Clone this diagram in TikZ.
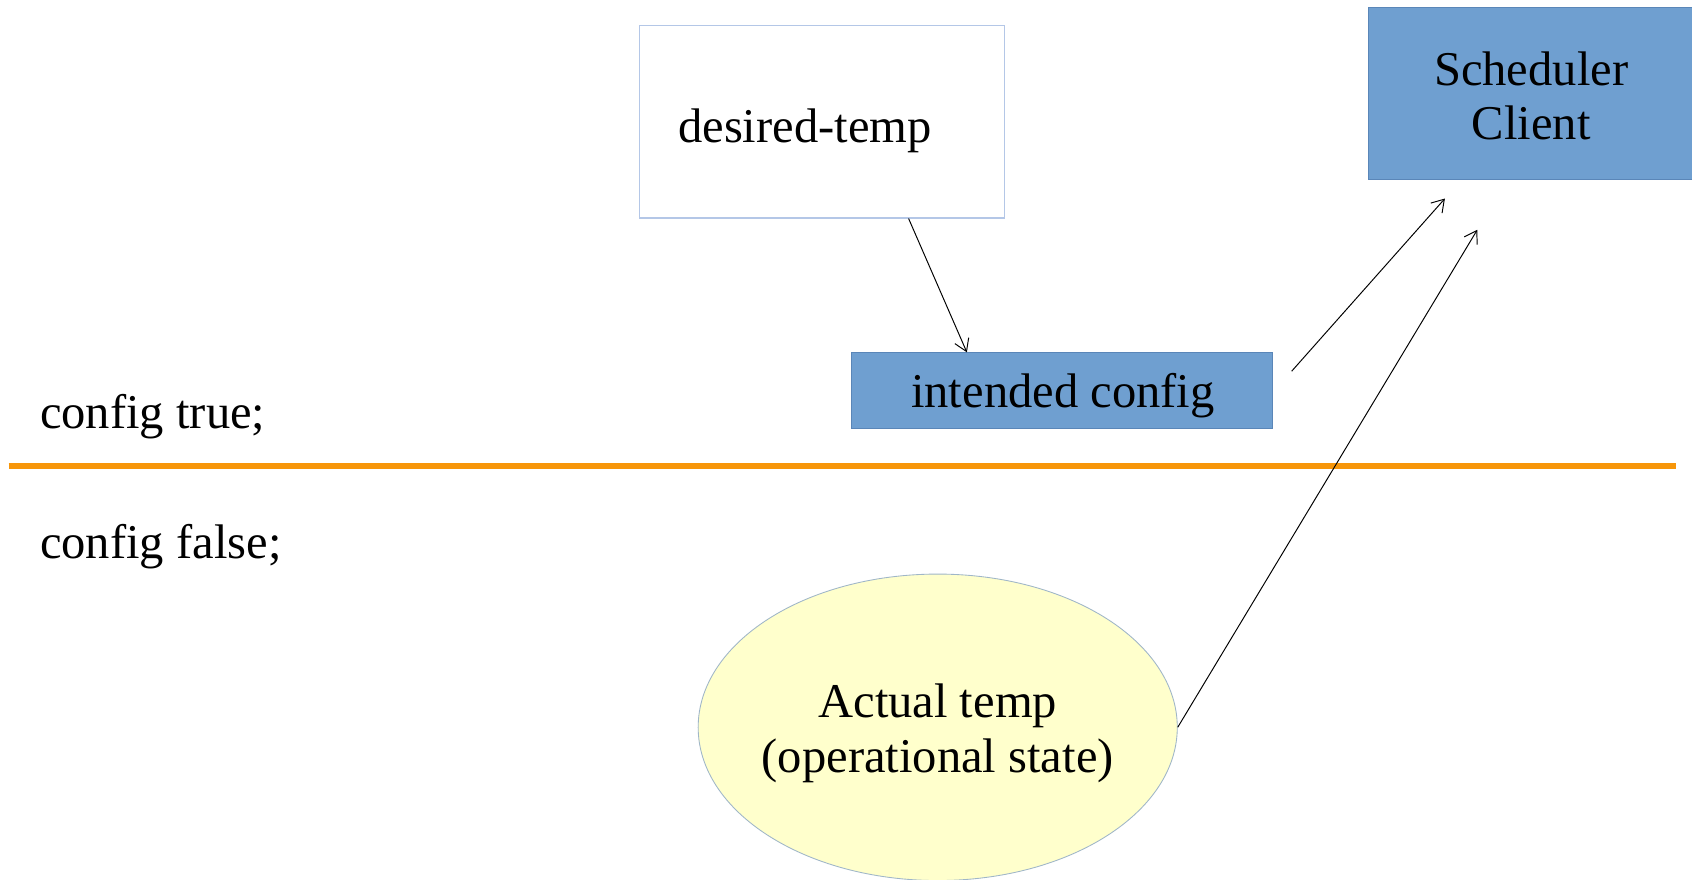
\documentclass[tikz,border=0pt]{standalone}
\usepackage{fontspec}
\setmainfont{Liberation Serif}
\usetikzlibrary{shapes.geometric,arrows.meta}
\definecolor{boxblue}{HTML}{6F9FD0}
\definecolor{boxedge}{HTML}{5A86B8}
\definecolor{paleedge}{HTML}{B4C7E7}
\definecolor{ellfill}{HTML}{FFFFCC}
\definecolor{elledge}{HTML}{9FB6C8}
\definecolor{sep}{HTML}{F7960A}
\tikzset{
  bigtext/.style={font=\fontsize{45}{50}\selectfont, text=black, inner sep=0pt, align=center},
  bluebox/.style={rectangle, fill=boxblue, draw=boxedge, line width=1pt, inner sep=0pt},
  conn/.style={draw=black, line width=0.9pt, -{Straight Barb[length=11pt,width=14pt,line width=0.9pt]}},
}
\begin{document}
\begin{tikzpicture}[x=1pt,y=-1pt]
\useasboundingbox[fill=white] (0,0) rectangle (1568,815.5);
% desired-temp box
\node[draw=paleedge, line width=1pt, minimum width=338pt, minimum height=178pt, inner sep=0pt] (d) at (762,113) {};
\node[bigtext] (dt) at (746,121) {desired-temp};
% scheduler client
\node[bluebox, minimum width=424pt, minimum height=159pt] (sc) at (1480,86.5) {};
\node[bigtext] (sct) at (1419,89) {Scheduler\\Client};
% intended config
\node[bluebox, minimum width=390pt, minimum height=70pt] (ic) at (984,362) {};
\node[bigtext] (ict) at (985,367) {intended config};
% separator
\draw[sep, line width=6pt] (8,432) coordinate (l1) -- (1553,432) coordinate (l2);
% labels
\node[bigtext, anchor=west] (ct) at (37,386) {config true;};
\node[bigtext, anchor=west] (cf) at (37,507) {config false;};
% ellipse
\node[ellipse, fill=ellfill, draw=elledge, line width=0.8pt, minimum width=444pt, minimum height=284pt, inner sep=0pt] (at) at (869,674) {};
\node[bigtext, font=\fontsize{45}{51}\selectfont] (att) at (869,680) {Actual temp\\(operational state)};
% connectors
\coordinate (icout) at (1197,344);
\coordinate (scin1) at (1339,184);
\coordinate (scin2) at (1369,213);
\draw[conn] ([xshift=80pt]d.south) -- ([xshift=-88pt]ic.north);
\draw[conn] (icout) -- (scin1);
\draw[conn] (at.east) -- (scin2);
\end{tikzpicture}
\end{document}
